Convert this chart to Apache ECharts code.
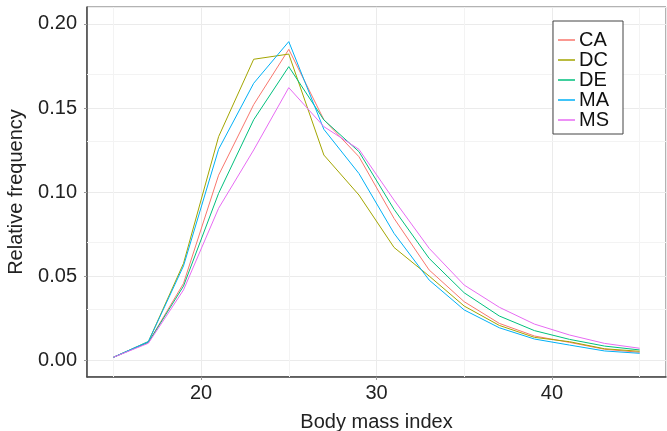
<!DOCTYPE html>
<html>
<head>
<meta charset="utf-8">
<script src="https://cdn.jsdelivr.net/npm/echarts@6/dist/echarts.min.js"></script>
<style>
html,body{margin:0;padding:0;background:#fff;}
#chart{width:667px;height:431px;}
</style>
</head>
<body>
<div id="chart"></div>
<script>
var bmi = [15,17,19,21,23,25,27,29,31,33,35,37,39,41,43,45];
var seriesNames = ['CA','DC','DE','MA','MS'];
var CA = [0.0016,0.0105,0.0456,0.110,0.152,0.1849,0.143,0.121,0.0843,0.0536,0.0347,0.0218,0.0143,0.0105,0.0064,0.0046];
var DC = [0.0016,0.0110,0.0575,0.1329,0.179,0.1821,0.122,0.0982,0.067,0.050,0.0321,0.0206,0.0135,0.0109,0.0067,0.0052];
var DE = [0.0016,0.0105,0.0440,0.0992,0.143,0.1746,0.1429,0.124,0.0897,0.0605,0.040,0.0262,0.0175,0.0123,0.0083,0.0060];
var MA = [0.0016,0.0110,0.0560,0.1254,0.1647,0.1895,0.1373,0.111,0.0754,0.0476,0.0298,0.0192,0.0125,0.0089,0.0054,0.0040];
var MS = [0.0016,0.0100,0.0417,0.0903,0.125,0.1621,0.1389,0.1254,0.0952,0.0665,0.0446,0.0314,0.0214,0.0149,0.0099,0.0070];
var xMinorGrid = [15,25,35,45];
var yMinorGrid = [0.025,0.075,0.125,0.175];

var colors = ['#F8766D','#A3A500','#00BF7D','#00B0F6','#E76BF3'];
var values = [CA, DC, DE, MA, MS];
var font = 'Liberation Sans, Arial, sans-serif';

var series = seriesNames.map(function(n, i){
  return {
    name: n, type: 'line', showSymbol: false, symbol: 'none',
    data: bmi.map(function(x, j){ return [x, values[i][j]]; }),
    lineStyle: {width: 1, color: colors[i]},
    itemStyle: {color: colors[i]},
    z: 3, silent: true
  };
});
var minorData = xMinorGrid.map(function(v){return {xAxis: v};})
  .concat(yMinorGrid.map(function(v){return {yAxis: v};}));
series.unshift({
  type: 'line', data: [], z: 1, silent: true,
  markLine: {
    silent: true, symbol: 'none', label: {show: false}, z: 1,
    lineStyle: {color: '#F3F3F3', width: 1, type: 'solid'},
    animation: false,
    data: minorData
  }
});

var chart = echarts.init(document.getElementById('chart'), null, {renderer: 'canvas'});
chart.setOption({
  animation: false,
  grid: {left: 87, right: 1, top: 7, bottom: 54, show: true, borderColor: '#666', borderWidth: 1,
         containLabel: false, outerBoundsMode: 'none'},
  xAxis: {
    type: 'value', min: 13.5, max: 46.5, splitNumber: 3,
    name: 'Body mass index', nameLocation: 'middle', nameGap: 35,
    nameTextStyle: {fontFamily: font, fontSize: 20, color: '#222'},
    axisLine: {show: true, onZero: false, lineStyle: {color: '#444', width: 1.5}},
    axisTick: {show: true, length: 3, lineStyle: {color: '#999'}},
    axisLabel: {fontFamily: font, fontSize: 20, color: '#222', margin: 6, showMinLabel: false, showMaxLabel: false,
      formatter: function(v){ return (Math.abs(v % 10) < 1e-9) ? String(v) : ''; }},
    splitLine: {show: true, lineStyle: {color: '#EBEBEB', width: 1}}
  },
  yAxis: {
    type: 'value', min: -0.0101, max: 0.2101, splitNumber: 4,
    name: 'Relative frequency', nameLocation: 'middle', nameGap: 61, nameRotate: 90,
    nameTextStyle: {fontFamily: font, fontSize: 20, color: '#222'},
    axisLine: {show: true, onZero: false, lineStyle: {color: '#444', width: 1.5}},
    axisTick: {show: true, length: 3, lineStyle: {color: '#999'}},
    axisLabel: {fontFamily: font, fontSize: 20, color: '#222', margin: 10, showMinLabel: false, showMaxLabel: false,
      formatter: function(v){ return (Math.abs(v*20 - Math.round(v*20)) < 1e-6) ? v.toFixed(2) : ''; }},
    splitLine: {show: true, lineStyle: {color: '#EBEBEB', width: 1}}
  },
  legend: {
    data: seriesNames, orient: 'vertical', left: 553, top: 21, z: 20,
    icon: 'rect', itemWidth: 17, itemHeight: 1.5, itemGap: 0,
    padding: [9, 14, 4, 5], borderColor: '#444', borderWidth: 1, backgroundColor: '#fff',
    textStyle: {fontFamily: font, fontSize: 20, color: '#111', lineHeight: 19.5, padding: [0,0,0,-1]},
    selectedMode: false
  },
  series: series
});
</script>
</body>
</html>
